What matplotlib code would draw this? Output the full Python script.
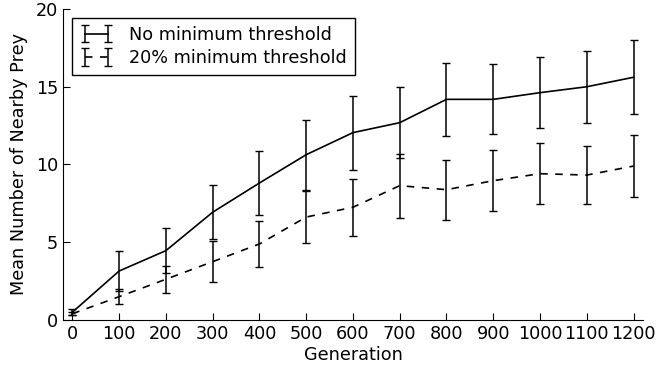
import matplotlib
matplotlib.use("Agg")
import matplotlib.pyplot as plt

generation = [0, 100, 200, 300, 400, 500, 600, 700, 800, 900, 1000, 1100, 1200]

no_thresh_mean = [0.5, 3.15, 4.46, 6.93, 8.81, 10.63, 12.05, 12.69, 14.19, 14.19, 14.62, 15.0, 15.61]
no_thresh_err = [0.2, 1.3, 1.46, 1.73, 2.06, 2.25, 2.38, 2.3, 2.33, 2.25, 2.29, 2.3, 2.39]

thresh20_mean = [0.4, 1.5, 2.62, 3.75, 4.89, 6.62, 7.25, 8.64, 8.38, 8.96, 9.41, 9.32, 9.9]
thresh20_err = [0.1, 0.5, 0.88, 1.3, 1.48, 1.65, 1.83, 2.05, 1.92, 1.97, 1.97, 1.84, 2.0]

fs = 12.7
fig = plt.figure(figsize=(6.59, 3.66), dpi=100)
ax = fig.add_axes([0.0956, 0.1257, 0.88, 0.8497])

ax.errorbar(generation, no_thresh_mean, yerr=no_thresh_err, color='black',
            lw=1.2, capsize=2.6, elinewidth=1.1, capthick=1.0,
            label='No minimum threshold')
ax.errorbar(generation, thresh20_mean, yerr=thresh20_err, color='black',
            lw=1.2, ls=(0, (4.5, 4.5)), capsize=2.6, elinewidth=1.1, capthick=1.0,
            label='20% minimum threshold')

ax.set_xlim(-20, 1220)
ax.set_ylim(0, 20)
ax.set_xticks(generation)
ax.set_yticks([0, 5, 10, 15, 20])
ax.set_xlabel('Generation', fontsize=fs, labelpad=2)
ax.set_ylabel('Mean Number of Nearby Prey', fontsize=fs, labelpad=6)

ax.spines['top'].set_visible(False)
ax.spines['right'].set_visible(False)
ax.tick_params(direction='in', length=5, labelsize=fs, top=False, right=False)

leg = ax.legend(loc='upper left', fontsize=fs, fancybox=False, framealpha=1,
                edgecolor='black', numpoints=2, handlelength=1.9,
                handletextpad=0.9, borderpad=0.45, labelspacing=0.3)
leg.get_frame().set_linewidth(1.0)

fig.savefig('out.png', dpi=100)
